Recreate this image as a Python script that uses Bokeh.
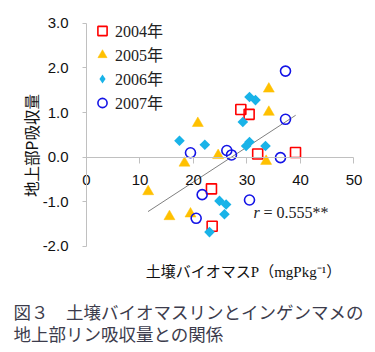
import numpy as np
from bokeh.plotting import figure
from bokeh.models import (Range1d, FixedTicker, Label, Legend, LegendItem,
                          NumeralTickFormatter)
from bokeh.embed import file_html
from bokeh.resources import INLINE

# ---- data ----
x2004 = [28.85, 30.4, 32.0, 39.07, 23.36, 23.49]
y2004 = [1.07, 0.96, 0.07, 0.105, -0.71, -1.55]

x2005 = [34.08, 34.08, 20.81, 24.61, 18.32, 33.58, 11.53, 15.51, 19.44]
y2005 = [1.53, 1.01, 0.76, 0.04, -0.13, -0.09, -0.77, -1.33, -1.27]

x2006 = [30.47, 31.59, 29.22, 17.38, 22.12, 30.47, 29.84, 33.46, 24.86, 26.1, 25.79, 22.99]
y2006 = [1.35, 1.28, 0.79, 0.37, 0.28, 0.34, 0.25, 0.25, -0.98, -1.06, -1.28, -1.68]

x2007 = [37.2, 37.2, 19.44, 26.23, 27.1, 36.26, 21.62, 30.47, 20.5]
y2007 = [1.93, 0.85, 0.10, 0.15, 0.05, -0.01, -0.84, -0.96, -1.37]

trend_x = [11.5, 39.1]
trend_y = [-1.22, 0.94]

series_labels = ["2004年", "2005年", "2006年", "2007年"]
x_ticks = [0, 10, 20, 30, 40, 50]
y_ticks = [-2, -1, 0, 1, 2, 3]

x_title = "土壌バイオマスP（mgPkg⁻¹）"
y_title = "地上部P吸収量"
caption_1 = "図３　土壌バイオマスリンとインゲンマメの"
caption_2 = "地上部リン吸収量との関係"
r_symbol = "r"
r_value_text = "= 0.555**"
r_pos = (31.2, -1.23)

# ---- figure: frame covers the whole canvas, axes are pinned at 0 ----
p = figure(width=375, height=352, output_backend="svg", toolbar_location=None,
           x_range=Range1d(-16.07, 54.02), y_range=Range1d(-4.379, 3.513),
           min_border=0)
p.outline_line_color = None
p.grid.visible = False
p.background_fill_color = "white"
p.border_fill_color = "white"

p.xaxis.fixed_location = 0
p.yaxis.fixed_location = 0
p.xaxis.bounds = (x_ticks[0], x_ticks[-1])
p.yaxis.bounds = (y_ticks[0], y_ticks[-1])
p.xaxis.ticker = FixedTicker(ticks=x_ticks)
p.yaxis.ticker = FixedTicker(ticks=y_ticks)
p.xaxis.formatter = NumeralTickFormatter(format="0")
p.yaxis.formatter = NumeralTickFormatter(format="0.0")
for ax in (p.xaxis[0], p.yaxis[0]):
    ax.axis_line_color = "#c0c0c0"
    ax.major_tick_line_color = "#c0c0c0"
    ax.minor_tick_line_color = None
    ax.major_tick_in = 0
    ax.major_label_text_font = "Liberation Sans"
    ax.major_label_text_font_size = "15px"
    ax.major_label_text_color = "#111111"
p.xaxis.major_tick_out = 6
p.yaxis.major_tick_out = 4
p.xaxis.major_label_standoff = 12
p.yaxis.major_label_standoff = 14

# trend line
p.line(trend_x, trend_y, line_color="#808080", line_width=1)

r04 = p.scatter(x2004, y2004, marker="square", size=10, fill_color=None,
                line_color="#ff0000", line_width=1.6)
r05 = p.scatter(x2005, y2005, marker="triangle", size=11, fill_color="#ffc000",
                line_color="#ffc000", line_width=0.5)
r06 = p.scatter(x2006, y2006, marker="square", angle=np.pi / 4, size=7.5,
                fill_color="#19b3e8", line_color=None)
# same points, zero size: only supplies the diamond shape for the legend
r06_leg = p.scatter(x2006, y2006, marker="diamond", size=0, fill_color="#19b3e8",
                    line_color=None)
r07 = p.scatter(x2007, y2007, marker="circle", size=10, fill_color=None,
                line_color="#1414e6", line_width=1.6)

legend = Legend(items=[LegendItem(label=series_labels[0], renderers=[r04]),
                       LegendItem(label=series_labels[1], renderers=[r05]),
                       LegendItem(label=series_labels[2], renderers=[r06_leg]),
                       LegendItem(label=series_labels[3], renderers=[r07])],
                location=(89, 238), padding=0, margin=0, spacing=0,
                glyph_width=26, glyph_height=23, label_height=23, label_standoff=-2,
                background_fill_alpha=0, border_line_color=None,
                label_text_font="'Liberation Serif', 'Noto Sans CJK JP'",
                label_text_font_size="16px", label_text_color="#222222")
p.add_layout(legend)

# r annotation
p.add_layout(Label(x=r_pos[0], y=r_pos[1], text=r_symbol, text_font="Liberation Serif",
                   text_font_style="italic", text_font_size="16px",
                   text_baseline="middle", text_color="#222222"))
p.add_layout(Label(x=r_pos[0], y=r_pos[1], x_offset=10, text=r_value_text,
                   text_font="Liberation Serif", text_font_size="16px",
                   text_baseline="middle", text_color="#222222"))

# axis titles and caption (screen units, origin at bottom-left of canvas)
p.add_layout(Label(x=243, y=81, x_units="screen", y_units="screen", text=x_title,
                   text_align="center", text_baseline="middle",
                   text_font="'Liberation Serif', 'Noto Sans CJK JP'",
                   text_font_size="15px", text_color="#111111"))
p.add_layout(Label(x=30, y=207, x_units="screen", y_units="screen", text=y_title,
                   angle=np.pi / 2, text_align="center", text_baseline="middle",
                   text_font="Noto Sans CJK JP", text_font_size="15.5px",
                   text_color="#111111"))
p.add_layout(Label(x=13, y=41, x_units="screen", y_units="screen", text=caption_1,
                   text_align="left", text_baseline="middle",
                   text_font="Noto Sans CJK JP", text_font_size="17.5px",
                   text_color="#3c3c4c"))
p.add_layout(Label(x=13, y=19, x_units="screen", y_units="screen", text=caption_2,
                   text_align="left", text_baseline="middle",
                   text_font="Noto Sans CJK JP", text_font_size="17.5px",
                   text_color="#3c3c4c"))

open("out.html", "w").write(file_html(p, INLINE))
